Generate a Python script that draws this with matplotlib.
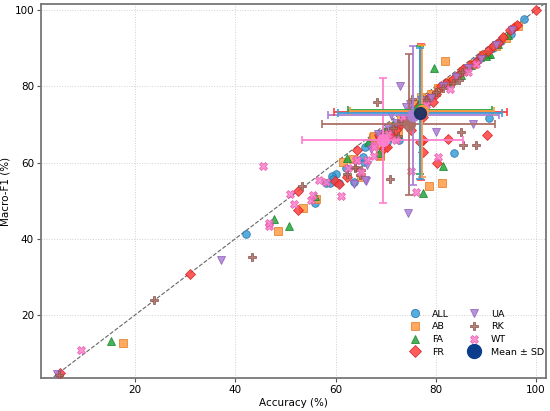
import matplotlib
matplotlib.use("Agg")
import matplotlib.pyplot as plt
from matplotlib.lines import Line2D

groups = ["ALL", "AB", "FA", "FR", "UA", "RK", "WT"]

all_acc = [42.2, 55.9, 58.1, 60.1, 59.3, 59.5, 60.6, 58.8, 63.6, 65.6, 65.9, 65.4, 72.6, 71.4, 83.7, 90.7,
           73.0, 74.5, 76.0, 77.5, 79.0, 80.5, 82.0, 84.0, 86.0, 88.0, 90.0, 91.5, 93.0, 95.0, 97.6,
           69.5, 70.5, 75.0, 78.0, 66.8, 62.0, 70.3]
all_f1 = [41.2, 49.3, 54.7, 57.0, 56.4, 55.6, 54.5, 54.5, 54.9, 60.2, 64.1, 61.5, 65.9, 67.9, 62.5, 71.8,
          70.5, 72.0, 74.2, 76.0, 77.5, 79.2, 80.5, 82.8, 84.5, 86.6, 88.5, 90.2, 91.8, 93.8, 97.6,
          67.0, 68.5, 73.0, 75.5, 65.0, 58.5, 65.5]

ab_acc = [17.6, 48.5, 53.5, 56.1, 61.5, 65.1, 68.8, 67.4, 68.1, 68.8, 67.6, 78.7, 81.3, 81.9,
          71.5, 73.0, 74.5, 76.0, 77.5, 79.0, 80.5, 83.0, 85.5, 87.5, 89.5, 92.0, 94.0, 96.5,
          70.0, 75.5, 77.0, 72.5, 63.5]
ab_f1 = [12.6, 42.0, 48.0, 50.4, 60.2, 56.2, 61.7, 66.7, 64.6, 61.9, 66.9, 53.8, 54.5, 86.7,
         69.5, 71.8, 73.0, 74.5, 75.0, 78.0, 79.5, 81.5, 84.0, 86.0, 88.3, 90.5, 92.8, 95.8,
         67.5, 75.5, 77.3, 68.0, 61.0]

fa_acc = [15.2, 50.8, 47.7, 55.9, 62.3, 68.6, 72.4, 70.0, 79.7, 81.4, 77.5, 73.5, 75.0, 76.5, 78.0,
          80.0, 82.5, 85.0, 87.0, 88.8, 90.5, 92.5, 94.5, 71.5, 74.0, 77.2, 66.5, 69.5, 90.9, 90.1]
fa_f1 = [13.1, 43.3, 45.1, 51.2, 61.3, 62.5, 66.9, 64.8, 84.7, 59.1, 52.0, 71.0, 73.5, 75.5, 76.8,
         78.6, 81.0, 83.0, 85.5, 87.8, 88.5, 91.0, 93.5, 70.0, 72.2, 77.0, 65.5, 68.5, 88.6, 87.9]

fr_acc = [5.0, 31.0, 52.5, 52.5, 59.8, 60.6, 62.3, 64.2, 68.8, 69.6, 70.2, 68.6, 77.4, 77.4, 82.5,
          80.2, 90.2, 100.0, 96.2, 95.5, 94.9, 93.5, 92.5, 91.5, 90.5, 89.0, 88.0, 86.8, 85.5,
          84.5, 83.5, 82.0, 81.0, 80.0, 78.5, 77.8, 76.5, 75.5, 74.0, 73.0, 72.0, 71.0, 75.0,
          79.5, 76.9, 77.5]
fr_f1 = [4.7, 30.7, 47.5, 52.6, 55.1, 54.3, 56.1, 63.4, 66.7, 63.7, 64.0, 67.2, 65.9, 62.8, 66.1,
         59.8, 67.2, 100.0, 96.1, 95.2, 94.8, 93.0, 91.5, 90.5, 89.3, 88.0, 86.5, 85.5, 84.5,
         83.0, 82.0, 80.8, 80.0, 78.0, 77.0, 75.5, 74.5, 72.8, 71.5, 70.0, 68.5, 67.0, 68.5,
         76.0, 65.4, 71.9]

ua_acc = [4.4, 37.2, 63.6, 66.0, 66.2, 65.9, 74.4, 72.8, 80.1, 87.5, 95.2, 70.5, 72.0, 73.5, 75.5,
          77.0, 79.0, 81.5, 84.0, 86.5, 89.0, 92.0, 68.5, 71.0, 74.8, 67.0, 69.5, 74.1]
ua_f1 = [4.5, 34.4, 54.3, 55.2, 59.3, 55.4, 46.8, 80.1, 68.1, 70.0, 94.9, 69.0, 70.5, 71.8, 73.5,
         76.5, 77.0, 80.0, 82.5, 84.8, 87.3, 90.8, 67.5, 72.5, 75.5, 63.5, 64.5, 74.5]

rk_acc = [4.8, 23.8, 43.4, 53.4, 62.3, 63.8, 64.9, 63.8, 65.1, 68.2, 70.8, 85.1, 85.4, 88.1, 70.0,
          71.5, 73.0, 74.5, 76.0, 78.0, 80.0, 81.5, 83.5, 86.0, 72.5, 75.3, 84.7, 85.2]
rk_f1 = [4.2, 23.9, 35.2, 53.9, 57.1, 58.7, 56.7, 58.9, 58.0, 75.9, 55.6, 68.1, 64.6, 64.6, 68.0,
         69.0, 71.0, 72.5, 73.0, 76.5, 78.5, 79.5, 81.0, 84.0, 67.0, 76.8, 81.6, 83.8]

wt_acc = [9.2, 45.5, 46.7, 46.7, 51.7, 55.1, 55.5, 50.9, 56.7, 61.1, 64.1, 65.1, 67.6, 67.6, 67.6,
          64.2, 66.2, 80.5, 76.1, 75.1, 86.5, 82.9, 73.5, 75.0, 70.5, 72.0, 78.0, 88.0, 62.5, 58.0]
wt_f1 = [10.8, 59.1, 43.3, 44.1, 49.1, 50.1, 51.4, 51.7, 55.4, 51.3, 60.6, 57.6, 64.6, 64.1, 61.7,
         60.6, 60.6, 61.5, 52.3, 57.7, 83.8, 79.2, 72.0, 71.0, 67.5, 66.0, 75.0, 86.0, 58.5, 55.0]

mean_acc = [76.8, 77.3, 76.9, 77.0, 75.5, 74.6, 69.4]
mean_f1 = [73.0, 73.6, 73.8, 73.3, 72.4, 70.0, 65.8]
sd_acc = [16.4, 14.4, 14.4, 17.3, 17.1, 17.3, 16.1]
sd_f1 = [17.2, 17.3, 16.8, 17.8, 18.3, 18.4, 16.4]

acc_data = [all_acc, ab_acc, fa_acc, fr_acc, ua_acc, rk_acc, wt_acc]
f1_data = [all_f1, ab_f1, fa_f1, fr_f1, ua_f1, rk_f1, wt_f1]

colors = ["#3a9fd8", "#ff9a45", "#22a83a", "#ff3f3f", "#ad7fd6", "#ab6e66", "#ff7fce"]
edges = ["#1f6fa8", "#e07a20", "#15802a", "#d42020", "#8a5cb5", "#8a4f48", "#e05aaa"]
markers = ["o", "s", "^", "D", "v", "P", "X"]
sizes = [5.5, 5.3, 5.6, 5.6, 5.6, 6.0, 6.0]

fig = plt.figure(figsize=(5.5, 4.11), dpi=100)
ax = fig.add_axes([0.0745, 0.080, 0.919, 0.910])

ax.plot([0, 103], [0, 103], ls="--", color="#666666", lw=0.8, zorder=1)

for i, g in enumerate(groups):
    ax.plot(acc_data[i], f1_data[i], ls="none", marker=markers[i], ms=sizes[i],
            mfc=colors[i], mec=edges[i], mew=0.6, alpha=0.85, zorder=3)

mean_colors = ["#1c2f66", colors[1], colors[2], colors[3], colors[4], colors[5], colors[6]]
for i in range(len(groups) - 1, -1, -1):
    ax.errorbar(mean_acc[i], mean_f1[i], xerr=sd_acc[i], yerr=sd_f1[i], fmt="none",
                ecolor=colors[i], elinewidth=1.3, capsize=3, capthick=1.2, zorder=4)
for i in range(len(groups) - 1, -1, -1):
    ax.plot(mean_acc[i], mean_f1[i], ls="none", marker="o", ms=8.5, mfc=mean_colors[i],
            mec=mean_colors[i], alpha=0.95, zorder=5)

ax.set_xlim(1.2, 102.1)
ax.set_ylim(3.4, 101.6)
ax.set_xticks([20, 40, 60, 80, 100])
ax.set_yticks([20, 40, 60, 80, 100])
ax.tick_params(labelsize=7.5, length=3, pad=2, color="#555555")
ax.grid(True, ls=":", color="#d0d0d0", lw=0.7, zorder=0)
ax.set_axisbelow(True)
for s in ax.spines.values():
    s.set_color("#777777")
    s.set_linewidth(1.3)
ax.set_xlabel("Accuracy (%)", fontsize=7.5, labelpad=2)
ax.set_ylabel("Macro-F1 (%)", fontsize=7.5, labelpad=3)

handles = []
for i, g in enumerate(groups):
    handles.append(Line2D([], [], ls="none", marker=markers[i], ms=6, mfc=colors[i],
                          mec=edges[i], mew=0.6, alpha=0.85, label=g))
mean_handle = Line2D([], [], ls="none", marker="o", ms=10, mfc="#0b3d8c", mec="#0b3d8c",
                     label="Mean ± SD")
ax.legend(handles=handles + [mean_handle], ncol=2, loc="lower left", frameon=False,
          fontsize=6.8, bbox_to_anchor=(0.705, 0.035), handletextpad=0.8, columnspacing=1.6,
          labelspacing=0.38)

fig.savefig("out.png", dpi=100)
